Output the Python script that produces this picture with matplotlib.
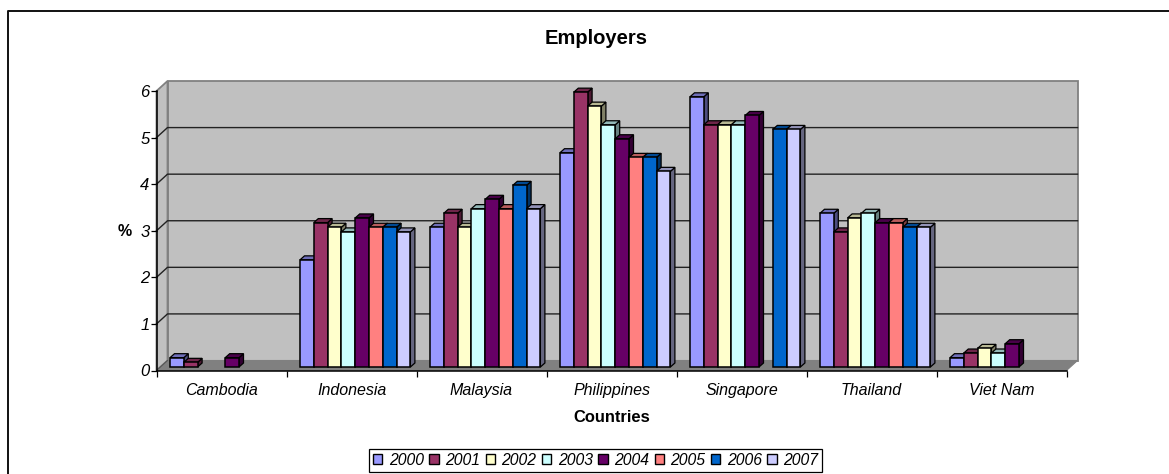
import numpy as np
import matplotlib
matplotlib.use("Agg")
import matplotlib.pyplot as plt
from matplotlib.colors import to_rgb
from matplotlib.patches import Polygon, Rectangle

plt.rcParams["font.family"] = ["Liberation Sans", "DejaVu Sans"]

countries = ["Cambodia", "Indonesia", "Malaysia", "Philippines", "Singapore", "Thailand", "Viet Nam"]
years = ["2000", "2001", "2002", "2003", "2004", "2005", "2006", "2007"]
nan = float("nan")
values = {
    "2000": [0.2, 2.3, 3.0, 4.6, 5.8, 3.3, 0.2],
    "2001": [0.1, 3.1, 3.3, 5.9, 5.2, 2.9, 0.3],
    "2002": [nan, 3.0, 3.0, 5.6, 5.2, 3.2, 0.4],
    "2003": [nan, 2.9, 3.4, 5.2, 5.2, 3.3, 0.3],
    "2004": [0.2, 3.2, 3.6, 4.9, 5.4, 3.1, 0.5],
    "2005": [nan, 3.0, 3.4, 4.5, nan, 3.1, nan],
    "2006": [nan, 3.0, 3.9, 4.5, 5.1, 3.0, nan],
    "2007": [nan, 2.9, 3.4, 4.2, 5.1, 3.0, nan],
}
colors = ["#9999FF", "#993366", "#FFFFCC", "#CCFFFF", "#660066", "#FF8080", "#0066CC", "#CCCCFF"]

W, H = 1169, 474
X0, X1 = 156.5, 1066.5
Y0, Y6 = 370.5, 91.0
ux = (X1 - X0) / len(countries)
uy = (Y0 - Y6) / 6

# depth of the box and of the bars, in data units
wall_dx, wall_dy = 11 / ux, 10 / uy
bar_dx, bar_dy = 4.5 / ux, 4 / uy
bar_w = 13.8 / ux
bar_start = 13.5 / ux
base = 3.5 / uy


def shade(color, f):
    return tuple(c * f for c in to_rgb(color))


fig = plt.figure(figsize=(W / 100, H / 100), dpi=100)
ax = fig.add_axes([X0 / W, 1 - Y0 / H, (X1 - X0) / W, (Y0 - Y6) / H])
ax.set_xlim(0, len(countries))
ax.set_ylim(0, 6)
ax.patch.set_visible(False)
n = len(countries)

# back wall, side wall and floor
ax.add_patch(Rectangle((wall_dx, wall_dy), n, 6, fc="#C0C0C0", ec="#808080", lw=1.3, clip_on=False, zorder=1))
ax.add_patch(Polygon([(0, 0), (wall_dx, wall_dy), (wall_dx, 6 + wall_dy), (0, 6)], fc="#C0C0C0", ec="#808080", lw=1.3, clip_on=False, zorder=1))
ax.add_patch(Polygon([(0, 0), (n, 0), (n + wall_dx, wall_dy), (wall_dx, wall_dy)], fc="#808080", ec="#808080", lw=0.8, clip_on=False, zorder=1.5))
for v in range(1, 6):
    ax.plot([0, wall_dx, n + wall_dx], [v, v + wall_dy, v + wall_dy], color="#222222", lw=1.0, clip_on=False, zorder=2)
ax.plot([0, wall_dx], [0, wall_dy], color="#555555", lw=0.8, clip_on=False, zorder=2)

# bars, drawn left to right so each front hides the side of the one before
z = 3
for c in range(n):
    for j, year in enumerate(years):
        v = values[year][c]
        if np.isnan(v):
            z += 1
            continue
        left = c + bar_start + j * bar_w
        right = left + bar_w
        top = base + v
        edge = "#000000"
        ax.add_patch(Polygon([(right, base), (right + bar_dx, base + bar_dy), (right + bar_dx, top + bar_dy), (right, top)],
                             fc=shade(colors[j], 0.5), ec=edge, lw=0.9, clip_on=False, zorder=z))
        ax.add_patch(Polygon([(left, top), (right, top), (right + bar_dx, top + bar_dy), (left + bar_dx, top + bar_dy)],
                             fc=shade(colors[j], 0.72), ec=edge, lw=0.9, clip_on=False, zorder=z))
        ax.bar(left, v, width=bar_w, bottom=base, align="edge", color=colors[j], edgecolor=edge, lw=1.1, clip_on=False, zorder=z + 0.5)
        z += 1

# axes lines, ticks and labels
for s in ["top", "right"]:
    ax.spines[s].set_visible(False)
for s in ["left", "bottom"]:
    ax.spines[s].set_linewidth(1.1)
    ax.spines[s].set_zorder(2.5)
ax.set_yticks(range(7))
ax.set_yticklabels([str(v) for v in range(7)], fontsize=12, style="italic")
ax.set_xticks(range(n + 1))
ax.set_xticklabels([])
ax.set_xticks(np.arange(n) + 0.5, minor=True)
ax.set_xticklabels(countries, minor=True, fontsize=11.5, style="italic")
ax.tick_params(axis="y", length=4, width=0.9, pad=1)
ax.tick_params(axis="x", which="major", length=4.5, width=0.9)
ax.tick_params(axis="x", which="minor", length=0, pad=9)

fig.text(596 / W, 1 - 39 / H, "Employers", fontsize=14.5, fontweight="bold", ha="center", va="center")
fig.text(611.5 / W, 1 - 417 / H, "Countries", fontsize=11.9, fontweight="bold", ha="center", va="center")
fig.text(125 / W, 1 - 231.5 / H, "%", fontsize=11.5, fontweight="bold", ha="center", va="center")

# outer chart frame, only top and left show in the crop
fig.add_artist(plt.Line2D([8 / W, 8 / W, 1], [0, 1 - 11 / H, 1 - 11 / H], color="#111111", lw=1.4))

handles = [Rectangle((0, 0), 1, 1, fc=col, ec="black", lw=1.0) for col in colors]
leg = fig.legend(handles, years, loc="center", bbox_to_anchor=(595.5 / W, 1 - 460.5 / H), ncol=8, frameon=True,
                 fancybox=False, edgecolor="black", framealpha=1, fontsize=11.3,
                 handlelength=0.6, handleheight=0.6, handletextpad=0.4, columnspacing=0.36,
                 borderpad=0.25, borderaxespad=0)
leg.get_frame().set_linewidth(0.9)
for t in leg.get_texts():
    t.set_fontstyle("italic")

fig.savefig("out.png", dpi=100)
